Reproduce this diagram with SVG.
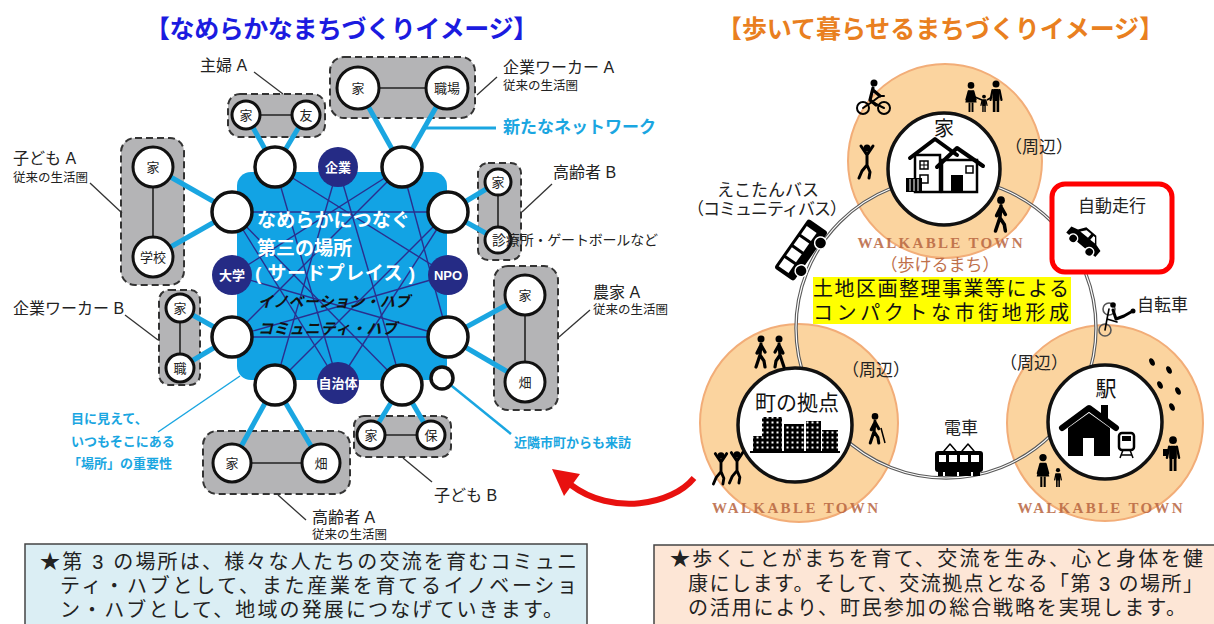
<svg xmlns="http://www.w3.org/2000/svg" width="1214" height="624" viewBox="0 0 1214 624">
<defs>
<style>
text{font-family:"Liberation Sans","Noto Sans CJK JP",sans-serif;}
.ttl{font-size:25px;font-weight:bold}
.grp{fill:#b4b4b6;stroke:#333;stroke-width:2;stroke-dasharray:7 4}
.hub{fill:#fff;stroke:#111;stroke-width:3.5}
.gc{fill:#fff;stroke:#111;stroke-width:3}
.pair{stroke:#222;stroke-width:1.6}
.org{fill:#252b85}
.otx{fill:#fff;font-size:13px;font-weight:bold;text-anchor:middle}
.net line{stroke:#2a2f8e;stroke-width:1.4}
.cy{stroke:#1aa6e1;stroke-width:5}
.lead{stroke:#333;stroke-width:1.3}
.lbl{font-size:16px;fill:#222}
.sub{font-size:12.5px;fill:#222}
.ctx{font-size:13px;fill:#222;text-anchor:middle}
.cyt{fill:#1aa6e1;font-weight:bold}
.ring{fill:#fbd49f;stroke:#f2ad78;stroke-width:2}
.wc{fill:#fff;stroke:#111;stroke-width:3.5}
.wt{font-family:"Liberation Serif",serif;font-weight:bold;font-size:15px;fill:#b8653f;opacity:.85;text-anchor:middle}
.rt{font-size:17px;fill:#222}
.box{font-size:20px;fill:#222}
.ic{fill:#000}
.ln{fill:none;stroke:#000;stroke-linecap:round;stroke-linejoin:round}
</style>
<pattern id="win" width="5" height="5" patternUnits="userSpaceOnUse">
<rect width="5" height="5" fill="#000"/>
<rect x="1.5" y="1.5" width="2" height="2" fill="#fff"/>
</pattern>
<g id="stand">
<circle cx="0" cy="-28" r="3.5"/>
<rect x="-3.5" y="-23" width="7" height="12" rx="1.5"/>
<rect x="-3.2" y="-12" width="2.6" height="12"/>
<rect x="0.6" y="-12" width="2.6" height="12"/>
<path d="M-3.5,-22 L-5.5,-12 M3.5,-22 L5.5,-12" stroke="#000" stroke-width="2.2" stroke-linecap="round"/>
</g>
<g id="woman">
<circle cx="0" cy="-28" r="3.5"/>
<path d="M-2.5,-23 h5 l3.5,13 h-12z"/>
<rect x="-2.6" y="-10" width="2" height="10"/>
<rect x="0.6" y="-10" width="2" height="10"/>
<path d="M-2.5,-22 L-5,-13 M2.5,-22 L5,-13" stroke="#000" stroke-width="2" stroke-linecap="round"/>
</g>
<g id="jump">
<circle cx="0" cy="-30" r="3.5"/>
<path d="M0,-25 L0,-13 M0,-23 L-6,-32 M0,-23 L6,-32 M0,-13 L-5,-7 L-8,0 M0,-13 L3,-6 L2,0" stroke="#000" stroke-width="3" fill="none" stroke-linecap="round" stroke-linejoin="round"/>
</g>
<g id="walk">
<circle cx="0" cy="-28" r="3.5"/>
<path d="M0,-23 L-1,-12 L-5,0 M-1,-12 L3,-6 L4,0 M0,-22 L-4,-14 M0,-22 L4,-15" stroke="#000" stroke-width="3.2" fill="none" stroke-linecap="round" stroke-linejoin="round"/>
</g>
</defs>

<rect width="1214" height="624" fill="#fff"/>

<!-- ===== left: smooth town network ===== -->
<text class="ttl" x="145" y="38" fill="#1b1be0" textLength="393">【なめらかなまちづくりイメージ】</text>

<!-- grey containers of the everyday circles -->
<g id="area-housewife"><rect class="grp" x="228" y="94" width="97" height="43" rx="12"/></g>
<g id="area-workerA"><rect class="grp" x="330" y="57" width="145" height="61" rx="14"/></g>
<g id="area-childA"><rect class="grp" x="121" y="138" width="63" height="147" rx="14"/></g>
<g id="area-workerB"><rect class="grp" x="159" y="290" width="41" height="95" rx="10"/></g>
<g id="area-elderB"><rect class="grp" x="478" y="163" width="43" height="97" rx="10"/></g>
<g id="area-farmer"><rect class="grp" x="494" y="266" width="64" height="144" rx="14"/></g>
<g id="area-elderA"><rect class="grp" x="203" y="431" width="147" height="63" rx="14"/></g>
<g id="area-childB"><rect class="grp" x="354" y="416" width="97" height="41" rx="10"/></g>

<!-- third place -->
<g id="third-place">
<rect x="237" y="172" width="210" height="208" rx="14" fill="#12a3e4"/>
</g>

<g id="connectors">
<g class="net">
<line x1="232" y1="212" x2="448" y2="212"/>
<line x1="232" y1="337" x2="448" y2="337"/>
<line x1="232" y1="275" x2="448" y2="337"/>
<line x1="275" y1="167" x2="448" y2="275"/>
<line x1="275" y1="167" x2="338" y2="383"/>
<line x1="338" y1="167" x2="275" y2="385"/>
<line x1="338" y1="167" x2="402" y2="385"/>
<line x1="402" y1="167" x2="232" y2="337"/>
<line x1="402" y1="167" x2="448" y2="337"/>
<line x1="448" y1="212" x2="275" y2="385"/>
<line x1="232" y1="212" x2="402" y2="385"/>
<line x1="338" y1="383" x2="448" y2="212"/>
<line x1="232" y1="275" x2="402" y2="167"/>
<line x1="232" y1="337" x2="448" y2="275"/>
<line x1="232" y1="212" x2="338" y2="383"/>
</g>
<!-- everyday links inside each container -->
<line class="pair" x1="246" y1="115" x2="306" y2="115"/>
<line class="pair" x1="358" y1="88" x2="447" y2="88"/>
<line class="pair" x1="153" y1="167" x2="153" y2="257"/>
<line class="pair" x1="180" y1="308" x2="180" y2="368"/>
<line class="pair" x1="498" y1="182" x2="498" y2="240"/>
<line class="pair" x1="525" y1="295" x2="525" y2="382"/>
<line class="pair" x1="232" y1="463" x2="321" y2="463"/>
<line class="pair" x1="371" y1="435" x2="431" y2="435"/>
<!-- new network links -->
<line class="cy" x1="246" y1="115" x2="275" y2="167"/>
<line class="cy" x1="306" y1="115" x2="275" y2="167"/>
<line class="cy" x1="358" y1="88" x2="402" y2="167"/>
<line class="cy" x1="447" y1="88" x2="402" y2="167"/>
<line class="cy" x1="153" y1="167" x2="232" y2="212"/>
<line class="cy" x1="153" y1="257" x2="232" y2="212"/>
<line class="cy" x1="180" y1="308" x2="232" y2="337"/>
<line class="cy" x1="180" y1="368" x2="232" y2="337"/>
<line class="cy" x1="498" y1="182" x2="448" y2="212"/>
<line class="cy" x1="498" y1="240" x2="448" y2="212"/>
<line class="cy" x1="525" y1="295" x2="448" y2="337"/>
<line class="cy" x1="525" y1="382" x2="448" y2="337"/>
<line class="cy" x1="232" y1="463" x2="275" y2="385"/>
<line class="cy" x1="321" y1="463" x2="275" y2="385"/>
<line class="cy" x1="371" y1="435" x2="402" y2="385"/>
<line class="cy" x1="431" y1="435" x2="402" y2="385"/>
<line x1="442" y1="378" x2="511" y2="434" stroke="#1aa6e1" stroke-width="2.5"/>
<line x1="424" y1="128" x2="496" y2="128" stroke="#1aa6e1" stroke-width="3"/>
<line x1="240" y1="376" x2="158" y2="432" stroke="#1aa6e1" stroke-width="1.5"/>
<!-- label leaders -->
<line class="lead" x1="254" y1="72" x2="283" y2="94"/>
<line class="lead" x1="497" y1="77" x2="477" y2="95"/>
<line class="lead" x1="90" y1="183" x2="122" y2="213"/>
<line class="lead" x1="125" y1="315" x2="158" y2="340"/>
<line class="lead" x1="552" y1="184" x2="522" y2="212"/>
<line class="lead" x1="590" y1="310" x2="559" y2="337"/>
<line class="lead" x1="278" y1="495" x2="306" y2="520"/>
<line class="lead" x1="403" y1="458" x2="432" y2="482"/>
</g>

<!-- text inside the third place -->
<g id="third-place-text" font-weight="bold">
<text x="257" y="227" font-size="19" fill="#fff" textLength="153">なめらかにつなぐ</text>
<text x="257" y="255" font-size="19" fill="#fff">第三の場所</text>
<text x="255" y="280" font-size="19" fill="#fff" textLength="160">( サードプレイス )</text>
<text x="258" y="307" font-size="15" fill="#111" font-style="italic" textLength="152">イノベーション・ハブ</text>
<text x="258" y="334" font-size="15" fill="#111" font-style="italic" textLength="139">コミュニティ・ハブ</text>
</g>

<!-- hub circles around the third place -->
<g id="hub-tl"><circle class="hub" cx="275" cy="167" r="20"/></g>
<g id="hub-tr"><circle class="hub" cx="402" cy="167" r="20"/></g>
<g id="hub-lu"><circle class="hub" cx="232" cy="212" r="20"/></g>
<g id="hub-ru"><circle class="hub" cx="448" cy="212" r="20"/></g>
<g id="hub-ll"><circle class="hub" cx="232" cy="337" r="20"/></g>
<g id="hub-rl"><circle class="hub" cx="448" cy="337" r="20"/></g>
<g id="hub-bl"><circle class="hub" cx="275" cy="385" r="20"/></g>
<g id="hub-br"><circle class="hub" cx="402" cy="385" r="20"/></g>
<g id="hub-small"><circle class="hub" cx="442" cy="378" r="11" stroke-width="3"/></g>

<!-- organisations -->
<g id="org-company"><circle class="org" cx="338" cy="167" r="20"/><text class="otx" x="338" y="172">企業</text></g>
<g id="org-univ"><circle class="org" cx="232" cy="275" r="20"/><text class="otx" x="232" y="280">大学</text></g>
<g id="org-npo"><circle class="org" cx="448" cy="275" r="20"/><text class="otx" x="448" y="280">NPO</text></g>
<g id="org-city"><circle class="org" cx="338" cy="383" r="21"/><text class="otx" x="338" y="388">自治体</text></g>

<!-- everyday places -->
<g id="hw-home"><circle class="gc" cx="246" cy="115" r="14"/><text class="ctx" x="246" y="120">家</text></g>
<g id="hw-friend"><circle class="gc" cx="306" cy="115" r="14"/><text class="ctx" x="306" y="120">友</text></g>
<g id="wa-home"><circle class="gc" cx="358" cy="88" r="21"/><text class="ctx" x="358" y="93">家</text></g>
<g id="wa-office"><circle class="gc" cx="447" cy="88" r="21"/><text class="ctx" x="447" y="93">職場</text></g>
<g id="ca-home"><circle class="gc" cx="153" cy="167" r="20"/><text class="ctx" x="153" y="172">家</text></g>
<g id="ca-school"><circle class="gc" cx="153" cy="257" r="20"/><text class="ctx" x="153" y="262">学校</text></g>
<g id="wb-home"><circle class="gc" cx="180" cy="308" r="14"/><text class="ctx" x="180" y="313">家</text></g>
<g id="wb-office"><circle class="gc" cx="180" cy="368" r="14"/><text class="ctx" x="180" y="373">職</text></g>
<g id="eb-home"><circle class="gc" cx="498" cy="182" r="13"/><text class="ctx" x="498" y="187">家</text></g>
<g id="eb-clinic"><circle class="gc" cx="498" cy="240" r="13"/></g>
<g id="fa-home"><circle class="gc" cx="525" cy="295" r="20"/><text class="ctx" x="525" y="300">家</text></g>
<g id="fa-field"><circle class="gc" cx="525" cy="382" r="20"/><text class="ctx" x="525" y="387">畑</text></g>
<g id="ea-home"><circle class="gc" cx="232" cy="463" r="19"/><text class="ctx" x="232" y="468">家</text></g>
<g id="ea-field"><circle class="gc" cx="321" cy="463" r="19"/><text class="ctx" x="321" y="468">畑</text></g>
<g id="cb-home"><circle class="gc" cx="371" cy="435" r="14"/><text class="ctx" x="371" y="440">家</text></g>
<g id="cb-nursery"><circle class="gc" cx="431" cy="435" r="14"/><text class="ctx" x="431" y="440">保</text></g>

<!-- labels -->
<g id="labels-left">
<text class="lbl" x="200" y="71">主婦 A</text>
<text class="lbl" x="503" y="73">企業ワーカー A</text>
<text class="sub" x="503" y="90">従来の生活圏</text>
<text class="cyt" x="503" y="133" font-size="17">新たなネットワーク</text>
<text class="lbl" x="13" y="164">子ども A</text>
<text class="sub" x="13" y="182">従来の生活圏</text>
<text class="lbl" x="13" y="314">企業ワーカー B</text>
<text class="lbl" x="553" y="178">高齢者 B</text>
<text x="492" y="245" font-size="14" fill="#222" textLength="166">診療所・ゲートボールなど</text>
<text class="lbl" x="593" y="298">農家 A</text>
<text class="sub" x="593" y="314">従来の生活圏</text>
<text class="lbl" x="312" y="523">高齢者 A</text>
<text class="sub" x="312" y="539">従来の生活圏</text>
<text class="lbl" x="434" y="501">子ども B</text>
<text class="cyt" x="514" y="447" font-size="13">近隣市町からも来訪</text>
<text class="cyt" x="71" y="423" font-size="13">目に見えて、</text>
<text class="cyt" x="71" y="446" font-size="13">いつもそこにある</text>
<text class="cyt" x="68" y="468" font-size="13">「場所」の重要性</text>
</g>

<!-- red return arrow -->
<g id="arrow-back">
<path d="M694,478 C672,505 612,516 571,485" fill="none" stroke="#e8110f" stroke-width="6"/>
<polygon points="552,469 580,474 564,496" fill="#e8110f"/>
</g>

<!-- ===== right: walkable town ===== -->
<text class="ttl" x="717" y="38" fill="#e97f20" textLength="447">【歩いて暮らせるまちづくりイメージ】</text>

<g id="zone-home"><circle class="ring" cx="945" cy="161" r="97"/></g>
<g id="zone-center"><circle class="ring" cx="799" cy="423" r="99"/></g>
<g id="zone-station"><circle class="ring" cx="1105" cy="423" r="98"/></g>

<!-- loop road joining the three zones -->
<g id="loop">
<circle cx="946" cy="328" r="150" fill="none" stroke="#5a5a5a" stroke-width="3.4"/>
<circle cx="946" cy="328" r="150" fill="none" stroke="#fff" stroke-width="1.2"/>
</g>

<!-- home -->
<g id="node-home">
<circle class="wc" cx="944" cy="169" r="56"/>
<text x="944" y="136" font-size="20" fill="#111" text-anchor="middle">家</text>
<polyline class="ln" points="910,158 935,139 957,155" stroke-width="4"/>
<rect x="915" y="155" width="25" height="37" fill="#fff" stroke="#000" stroke-width="2.5"/>
<rect x="920" y="161" width="8" height="8" fill="#fff" stroke="#000" stroke-width="1.5"/>
<path d="M924,161 v8 M920,165 h8" stroke="#000" stroke-width="1"/>
<rect x="920" y="175" width="8" height="8" fill="#fff" stroke="#000" stroke-width="1.5"/>
<rect x="942" y="160" width="35" height="32" fill="#fff" stroke="#000" stroke-width="2.5"/>
<polyline class="ln" points="937,167 957,148 983,166" stroke-width="4"/>
<rect x="951" y="175" width="12" height="17" fill="#000"/>
<rect x="966" y="166" width="7" height="7" fill="#fff" stroke="#000" stroke-width="1.5"/>
<rect x="906" y="178" width="16" height="14" fill="#000"/>
<path d="M910,179 v12 M914,179 v12 M918,179 v12" stroke="#fff" stroke-width="1"/>
</g>
<text class="rt" x="1005" y="153">（周辺）</text>
<!-- people around home -->
<g id="home-people">
<circle cx="863" cy="108" r="6" class="ln" stroke-width="2"/>
<circle cx="884" cy="108" r="6" class="ln" stroke-width="2"/>
<path class="ln" d="M863,108 L872,102 L884,108 M872,102 L880,96 L884,96" stroke-width="2"/>
<circle cx="874" cy="83" r="3.5" class="ic"/>
<path class="ln" d="M873,88 L870,100 L876,105 M873,90 L880,96" stroke-width="3.2"/>
<use href="#woman" transform="translate(971,112) scale(0.95)"/>
<use href="#stand" transform="translate(984,112) scale(0.55)"/>
<use href="#stand" transform="translate(996,112) scale(1)"/>
<path d="M975,97 L982,100 M987,100 L992,97" stroke="#000" stroke-width="1.5"/>
<use href="#jump" transform="translate(867,178)"/>
<use href="#walk" transform="translate(1001,231) scale(1.1)"/>
</g>

<text class="wt" x="940" y="248" textLength="165">WALKABLE TOWN</text>
<text x="940" y="271" font-size="17" fill="#c0704a" text-anchor="middle">（歩けるまち）</text>

<g id="policy">
<rect x="813" y="277" width="258" height="47" fill="#ffff00"/>
<text x="813" y="296" font-size="20" fill="#111" textLength="256">土地区画整理事業等による</text>
<text x="813" y="320" font-size="20" fill="#111" textLength="256">コンパクトな市街地形成</text>
</g>

<!-- community bus -->
<g id="bus">
<text class="rt" x="768" y="196" text-anchor="middle" font-size="16.5">えこたんバス</text>
<text class="rt" x="767" y="215" text-anchor="middle" font-size="16" textLength="160">（コミュニティバス）</text>
<g transform="translate(801,250) rotate(-55)">
<rect x="-30" y="-12" width="60" height="24" rx="3" fill="#000"/>
<rect x="-26" y="-9" width="10" height="12" fill="#fff"/>
<rect x="-13" y="-9" width="10" height="12" fill="#fff"/>
<rect x="0" y="-9" width="10" height="12" fill="#fff"/>
<rect x="13" y="-9" width="10" height="12" fill="#fff"/>
<circle cx="-17" cy="12" r="6" fill="#000" stroke="#fff" stroke-width="1.5"/>
<circle cx="17" cy="12" r="6" fill="#000" stroke="#fff" stroke-width="1.5"/>
</g>
</g>

<!-- automated driving -->
<g id="auto-drive">
<rect x="1052" y="184" width="120" height="88" rx="13" fill="#fff" stroke="#ff0000" stroke-width="5"/>
<text class="rt" x="1112" y="212" text-anchor="middle">自動走行</text>
<g transform="translate(1084,241) rotate(40)">
<path d="M-19,5 v-8 l7,-2 l5,-7 h13 l6,7 l7,2 v8z" fill="#000"/>
<path d="M-5,-10 h6 v5 h-10z M4,-10 h2 l4,5 h-6z" fill="#fff"/>
<circle cx="-10" cy="5" r="4.5" fill="#000" stroke="#fff" stroke-width="1.5"/>
<circle cx="11" cy="5" r="4.5" fill="#000" stroke="#fff" stroke-width="1.5"/>
</g>
</g>

<!-- bicycle -->
<g id="bicycle">
<circle cx="1105" cy="330" r="6" fill="none" stroke="#555" stroke-width="1.6"/>
<circle cx="1109" cy="309" r="6" fill="none" stroke="#555" stroke-width="1.6"/>
<path class="ln" d="M1105,330 L1107,319 L1109,309 M1107,319 L1117,322" stroke="#555" stroke-width="1.6"/>
<circle cx="1113" cy="305" r="2.8" fill="#000"/>
<path class="ln" d="M1113,310 L1116,319 L1124,316 L1131,312" stroke-width="3"/>
<circle cx="1133" cy="311" r="2.5" fill="#000"/>
<text class="rt" x="1137" y="311">自転車</text>
</g>

<!-- town centre -->
<g id="node-center">
<circle class="wc" cx="795" cy="425" r="57"/>
<text x="797" y="410" font-size="21" fill="#111" text-anchor="middle">町の拠点</text>
<rect x="753" y="436" width="12" height="16" fill="url(#win)"/>
<rect x="762" y="417" width="20" height="35" fill="url(#win)"/>
<rect x="784" y="424" width="20" height="28" fill="url(#win)"/>
<rect x="806" y="421" width="15" height="31" fill="url(#win)"/>
<rect x="822" y="430" width="16" height="22" fill="url(#win)"/>
<rect x="750" y="451" width="90" height="2" fill="#000"/>
</g>
<text class="rt" x="842" y="376">（周辺）</text>
<g id="center-people">
<use href="#walk" transform="translate(761,367)"/>
<use href="#walk" transform="translate(779,367) scale(-1,1)"/>
<use href="#walk" transform="translate(875,443) scale(0.95)"/>
<line x1="881" y1="428" x2="885" y2="443" stroke="#000" stroke-width="1.5"/>
<use href="#jump" transform="translate(721,484) scale(0.95)"/>
<use href="#jump" transform="translate(737,483) scale(0.95)"/>
</g>
<text class="wt" x="795" y="513" textLength="166">WALKABLE TOWN</text>

<!-- station -->
<g id="node-station">
<circle class="wc" cx="1105" cy="422" r="57"/>
<text x="1106" y="396" font-size="21" fill="#111" text-anchor="middle">駅</text>
<rect x="1101" y="405" width="7" height="14" fill="#000"/>
<polyline class="ln" points="1062,428 1089,408 1116,428" stroke-width="6"/>
<path d="M1068,428 L1089,413 L1110,428 V456 H1068Z" fill="#000"/>
<rect x="1083" y="438" width="11" height="18" fill="#fff"/>
<rect x="1119" y="433" width="15" height="17" rx="3" fill="#fff" stroke="#000" stroke-width="2.5"/>
<rect x="1122" y="436" width="9" height="5" fill="#000"/>
<path d="M1120,458 L1123,450 M1133,458 L1130,450 M1121,455 h11" stroke="#000" stroke-width="1.5"/>
</g>
<text class="rt" x="1000" y="369">（周辺）</text>
<g id="station-people">
<ellipse cx="1152" cy="362" rx="2.5" ry="4" transform="rotate(-25 1152 362)"/>
<ellipse cx="1169" cy="370" rx="2.5" ry="4" transform="rotate(-25 1169 370)"/>
<ellipse cx="1160" cy="385" rx="2.5" ry="4" transform="rotate(-25 1160 385)"/>
<ellipse cx="1178" cy="391" rx="2.5" ry="4" transform="rotate(-25 1178 391)"/>
<ellipse cx="1172" cy="407" rx="2.5" ry="4" transform="rotate(-25 1172 407)"/>
<use href="#stand" transform="translate(1173,471) scale(1.1)"/>
<rect x="1163" y="449" width="5" height="7" fill="#000"/>
<use href="#woman" transform="translate(1043,487) scale(1.05)"/>
<use href="#stand" transform="translate(1058,487) scale(0.6)"/>
</g>
<text class="wt" x="1100" y="513" textLength="165">WALKABLE TOWN</text>

<!-- train -->
<g id="train">
<text class="rt" x="961" y="434" text-anchor="middle" font-size="18">電車</text>
<polyline class="ln" points="944,451 950,444 956,451" stroke-width="1.5"/>
<polyline class="ln" points="962,451 968,444 974,451" stroke-width="1.5"/>
<rect x="935" y="451" width="48" height="21" rx="3" fill="#000"/>
<rect x="939" y="455" width="7" height="7" fill="#fff"/>
<rect x="949" y="455" width="8" height="7" fill="#fff"/>
<rect x="960" y="455" width="8" height="7" fill="#fff"/>
<rect x="971" y="455" width="8" height="7" fill="#fff"/>
<rect x="938" y="472" width="42" height="4" fill="#000"/>
<path d="M944,472 v4 M958,472 v4 M972,472 v4" stroke="#fff" stroke-width="2"/>
</g>

<!-- summary boxes -->
<g id="note-left">
<rect x="25" y="544" width="562" height="90" fill="#dbeef4" stroke="#444" stroke-width="1.5"/>
<text class="box" x="40" y="569" textLength="537">★第 3 の場所は、様々な人たちの交流を育むコミュニ</text>
<text class="box" x="60" y="593" textLength="517">ティ・ハブとして、また産業を育てるイノベーショ</text>
<text class="box" x="60" y="617" textLength="503">ン・ハブとして、地域の発展につなげていきます。</text>
</g>
<g id="note-right">
<rect x="654" y="545" width="580" height="90" fill="#fde6d6" stroke="#444" stroke-width="1.5"/>
<text class="box" x="670" y="566" textLength="533">★歩くことがまちを育て、交流を生み、心と身体を健</text>
<text class="box" x="688" y="591" textLength="515">康にします。そして、交流拠点となる「第 3 の場所」</text>
<text class="box" x="688" y="615" textLength="498">の活用により、町民参加の総合戦略を実現します。</text>
</g>
</svg>
